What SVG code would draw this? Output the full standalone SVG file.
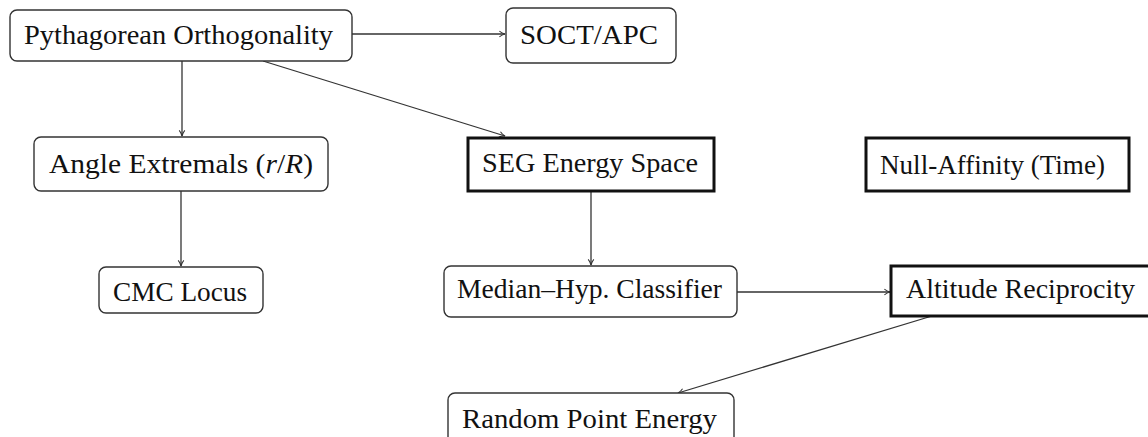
<svg xmlns="http://www.w3.org/2000/svg" width="1148" height="437" viewBox="0 0 1148 437">
  <style>
    .box { fill: #ffffff; stroke: #333333; stroke-width: 1.4; }
    .bold { fill: #ffffff; stroke: #111111; stroke-width: 3; }
    .lbl { font-family: "Liberation Serif", "Times New Roman", serif; font-size: 27px; fill: #111111; }
    .edge { fill: none; stroke: #333333; stroke-width: 1.3; marker-end: url(#tip); }
  </style>
  <defs>
    <marker id="tip" viewBox="0 0 10 10" refX="9" refY="5" markerWidth="8" markerHeight="8" markerUnits="userSpaceOnUse" orient="auto">
      <path d="M2,1.5 Q5,4 9,5 Q5,6 2,8.5" fill="none" stroke="#333333" stroke-width="1.3"/>
    </marker>
  </defs>

  <rect width="1148" height="437" fill="#ffffff"/>

  <g id="connectors">
    <line class="edge" x1="352" y1="34" x2="505" y2="34"/>
    <line class="edge" x1="182" y1="61" x2="182" y2="136"/>
    <line class="edge" x1="263" y1="61" x2="505" y2="136"/>
    <line class="edge" x1="181" y1="191" x2="181" y2="266"/>
    <line class="edge" x1="591" y1="191" x2="591" y2="265"/>
    <line class="edge" x1="737" y1="292" x2="890" y2="292"/>
    <line class="edge" x1="932" y1="316" x2="678" y2="393"/>
  </g>

  <g id="pythagorean-orthogonality">
    <rect class="box" x="10" y="10" width="342" height="51" rx="7"/>
    <text class="lbl" x="24" y="44" textLength="309" lengthAdjust="spacingAndGlyphs">Pythagorean  Orthogonality</text>
  </g>

  <g id="soct-apc">
    <rect class="box" x="506" y="8" width="170" height="55" rx="7"/>
    <text class="lbl" x="520" y="44" textLength="138" lengthAdjust="spacingAndGlyphs">SOCT/APC</text>
  </g>

  <g id="angle-extremals">
    <rect class="box" x="34" y="137" width="294" height="54" rx="7"/>
    <text class="lbl" x="49" y="173" textLength="264" lengthAdjust="spacingAndGlyphs">Angle Extremals (<tspan font-style="italic">r</tspan>/<tspan font-style="italic">R</tspan>)</text>
  </g>

  <g id="cmc-locus">
    <rect class="box" x="99" y="267" width="164" height="46" rx="7"/>
    <text class="lbl" x="113" y="301" textLength="134" lengthAdjust="spacingAndGlyphs">CMC  Locus</text>
  </g>

  <g id="seg-energy-space">
    <rect class="bold" x="468" y="138" width="246" height="53"/>
    <text class="lbl" x="482" y="172" textLength="216" lengthAdjust="spacingAndGlyphs">SEG Energy Space</text>
  </g>

  <g id="null-affinity">
    <rect class="bold" x="866" y="138" width="263" height="53"/>
    <text class="lbl" x="880" y="174" textLength="225" lengthAdjust="spacingAndGlyphs">Null-Affinity (Time)</text>
  </g>

  <g id="median-hyp-classifier">
    <rect class="box" x="444" y="266" width="293" height="51" rx="7"/>
    <text class="lbl" x="457" y="298" textLength="265" lengthAdjust="spacingAndGlyphs">Median–Hyp.  Classifier</text>
  </g>

  <g id="altitude-reciprocity">
    <rect class="bold" x="891" y="266" width="262" height="50"/>
    <text class="lbl" x="906" y="298" textLength="229" lengthAdjust="spacingAndGlyphs">Altitude  Reciprocity</text>
  </g>

  <g id="random-point-energy">
    <rect class="box" x="448" y="393" width="286" height="60" rx="7"/>
    <text class="lbl" x="462" y="428" textLength="255" lengthAdjust="spacingAndGlyphs">Random Point Energy</text>
  </g>
</svg>
